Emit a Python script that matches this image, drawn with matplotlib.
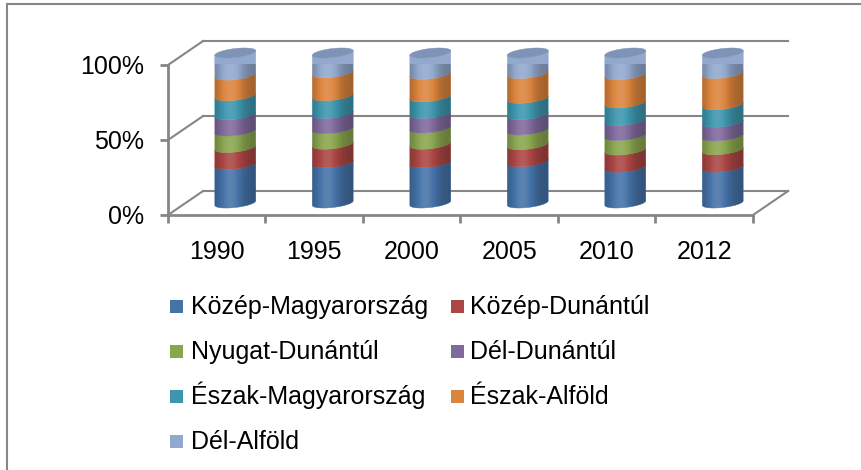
import numpy as np
import matplotlib.pyplot as plt
from matplotlib.patches import Polygon, Rectangle
from matplotlib.lines import Line2D

plt.rcParams['font.family'] = ['Liberation Sans', 'DejaVu Sans']

# data (share in %)
years = ["1990", "1995", "2000", "2005", "2010", "2012"]
regions = ["Közép-Magyarország", "Közép-Dunántúl", "Nyugat-Dunántúl", "Dél-Dunántúl",
           "Észak-Magyarország", "Észak-Alföld", "Dél-Alföld"]
colors = ["#4572A7", "#AA4643", "#89A54E", "#80699B", "#3D96AE", "#DB843D", "#92A8CD"]

kozep_magyarorszag = [25.7, 26.9, 26.9, 27.5, 23.9, 23.9]
kozep_dunantul = [11.3, 12.3, 12.3, 11.4, 11.4, 11.6]
nyugat_dunantul = [11.0, 10.3, 10.8, 9.8, 9.7, 9.2]
del_dunantul = [10.9, 10.2, 9.7, 10.2, 10.0, 9.2]
eszak_magyarorszag = [12.6, 11.8, 11.1, 10.9, 11.7, 11.6]
eszak_alfold = [13.8, 15.4, 15.0, 16.5, 18.8, 20.8]
del_alfold = [14.7, 13.1, 14.2, 13.7, 14.5, 13.7]

series = np.array([kozep_magyarorszag, kozep_dunantul, nyugat_dunantul, del_dunantul,
                   eszak_magyarorszag, eszak_alfold, del_alfold])
shares = series / series.sum(axis=0) * 100

W, H = 862, 470
gray = "#868686"
fs = 18
fig = plt.figure(figsize=(W / 100, H / 100), dpi=100)
ax = fig.add_axes([168 / W, 1 - 215 / H, 585 / W, 150 / H])

# fake 3D box: back wall gridlines and floor
ddx, ddy = 0.36, 16
for g in [0, 50, 100]:
    ax.plot([-0.5, -0.5 + ddx], [g, g + ddy], color=gray, lw=1.5, clip_on=False, zorder=1)
    ax.plot([-0.5 + ddx, 5.5 + ddx], [g + ddy, g + ddy], color=gray, lw=1.5, clip_on=False, zorder=1)
ax.plot([5.5, 5.5 + ddx], [0, ddy], color=gray, lw=1.5, clip_on=False, zorder=1)

for s in ["top", "right"]:
    ax.spines[s].set_visible(False)
for s in ["left", "bottom"]:
    ax.spines[s].set_color(gray)
    ax.spines[s].set_linewidth(2)

# cylinders
cdx, cdy = 0.19, 8
r, h, tilt = 0.21, 3.0, 1.5

# horizontal light/shadow across a cylinder
u = np.linspace(0, 1, 200)
f = 0.74 + 0.38 * np.exp(-((u - 0.38) / 0.3) ** 2)
light = np.zeros((1, len(u), 4))
light[0, :, :3] = np.where(f >= 1, 1.0, 0.0)[:, None]
light[0, :, 3] = np.where(f >= 1, f - 1, 1 - f)


def ring(xc, level, t):
    return xc + r * np.cos(t), level + cdy - h * np.sin(t) + tilt * np.cos(t)


front = np.linspace(np.pi, 0, 40)
for i in range(len(years)):
    xc = i + cdx
    cum = np.concatenate([[0], np.cumsum(shares[:, i])])
    for k in range(len(regions)):
        x0, y0 = ring(xc, cum[k], front)
        x1, y1 = ring(xc, cum[k + 1], front[::-1])
        ax.add_patch(Polygon(np.column_stack([np.r_[x0, x1], np.r_[y0, y1]]),
                             closed=True, facecolor=colors[k], edgecolor=colors[k],
                             lw=0.3, clip_on=False, zorder=3))
    tc = np.linspace(0, 2 * np.pi, 80)
    xt, yt = ring(xc, cum[-1], tc)
    ax.add_patch(Polygon(np.column_stack([xt, yt]), closed=True, facecolor="#7F93B6",
                         edgecolor="#7F93B6", lw=0.3, clip_on=False, zorder=4))
    # outline of the whole cylinder, used to clip the shading
    xb, yb = ring(xc, cum[0], front)
    xu, yu = ring(xc, cum[-1], np.linspace(0, -np.pi, 40))
    outline = Polygon(np.column_stack([np.r_[xb, xu], np.r_[yb, yu]]), closed=True,
                      transform=ax.transData)
    im = ax.imshow(light, extent=[xc - r, xc + r, -5, 120], aspect="auto",
                   interpolation="bilinear", zorder=5)
    im.set_clip_path(outline)
    im.set_clip_box(None)

ax.set_xlim(-0.5, 5.5)
ax.set_ylim(0, 100)
ax.set_yticks([0, 50, 100])
ax.set_yticklabels(["0%", "50%", "100%"])
ax.set_xticks(np.arange(-0.5, 6, 1))
ax.set_xticklabels([])
ax.set_xticks(np.arange(len(years)), minor=True)
ax.set_xticklabels(years, minor=True)
ax.tick_params(axis="y", direction="out", length=6, width=2, color=gray, pad=11, labelsize=fs)
ax.tick_params(axis="x", which="major", direction="out", length=6, width=2, color=gray)
ax.tick_params(axis="x", which="minor", length=0, pad=18, labelsize=fs)

# legend, laid out row by row like the original
for k, name in enumerate(regions):
    row, col = divmod(k, 2)
    yc = 306.5 + row * 45
    fig.add_artist(Rectangle(((170 + col * 281) / W, 1 - (yc + 6.5) / H), 13 / W, 13 / H,
                             transform=fig.transFigure, facecolor=colors[k], edgecolor="none"))
    fig.text((191 + col * 279) / W, 1 - (yc + 7.5) / H, name, fontsize=fs,
             ha="left", va="baseline")

# chart area border (clipped at top/left like the source)
fig.add_artist(Line2D([7 / W, 7 / W], [0, 1 - 4 / H], color=gray, lw=1.5))
fig.add_artist(Line2D([7 / W, 1], [1 - 4 / H, 1 - 4 / H], color=gray, lw=1.5))

fig.savefig("out.png", dpi=100)
